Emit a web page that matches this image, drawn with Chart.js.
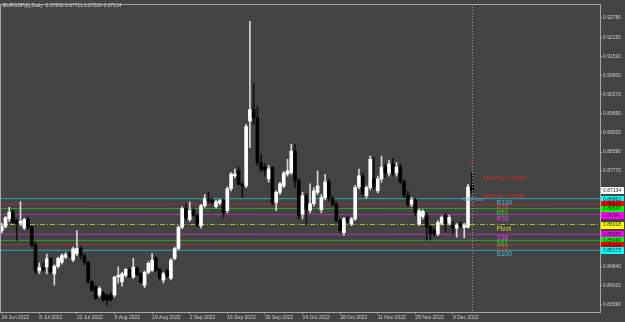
<!DOCTYPE html>
<html>
<head>
<meta charset="UTF-8">
<title>EURGBP Daily</title>
<script src="https://cdn.jsdelivr.net/npm/chart.js"></script>
<style>
  html, body { margin: 0; padding: 0; background: #434343; }
  #wrap { width: 625px; height: 322px; }
</style>
</head>
<body>
<div id="wrap"><canvas id="chart" width="625" height="322"></canvas></div>
<script>
  // header text
  const symbolTitle = 'EURGBP(£),Daily  0.87260 0.87711 0.87036 0.87134';

  // daily candles, 24 Jun 2022 .. 16 Dec 2022 (bar index 0..125)
  const opens = [
    0.8581, 0.8595, 0.8621, 0.8642, 0.8615, 0.8606, 0.8591, 0.8618, 0.8593, 0.8535,
    0.8450, 0.8461, 0.8463, 0.8490, 0.8440, 0.8465, 0.8478, 0.8495, 0.8503, 0.8486,
    0.8506, 0.8523, 0.8500, 0.8478, 0.8414, 0.8398, 0.8371, 0.8378, 0.8370, 0.8372,
    0.8371, 0.8430, 0.8414, 0.8436, 0.8455, 0.8430, 0.8459, 0.8442, 0.8403, 0.8445,
    0.8452, 0.8493, 0.8455, 0.8420, 0.8450, 0.8426, 0.8491, 0.8523, 0.8593, 0.8654,
    0.8618, 0.8648, 0.8632, 0.8598, 0.8663, 0.8686, 0.8680, 0.8660, 0.8672, 0.8680,
    0.8647, 0.8719, 0.8762, 0.8777, 0.8734, 0.8728, 0.8940, 0.8978, 0.8951, 0.8804,
    0.8790, 0.8751, 0.8788, 0.8674, 0.8707, 0.8728, 0.8767, 0.8772, 0.8842, 0.8745,
    0.8636, 0.8696, 0.8648, 0.8670, 0.8707, 0.8650, 0.8690, 0.8741, 0.8687, 0.8669,
    0.8615, 0.8575, 0.8620, 0.8604, 0.8620, 0.8725, 0.8761, 0.8696, 0.8723, 0.8752,
    0.8712, 0.8751, 0.8790, 0.8770, 0.8800, 0.8770, 0.8790, 0.8742, 0.8698, 0.8668,
    0.8682, 0.8604, 0.8628, 0.8631, 0.8593, 0.8582, 0.8571, 0.8606, 0.8631, 0.8606,
    0.8601, 0.8590, 0.8603, 0.8592, 0.8593, 0.87260
  ];
  const highs = [
    0.8606, 0.8628, 0.8658, 0.8650, 0.8620, 0.8677, 0.8622, 0.8626, 0.8598, 0.8544,
    0.8476, 0.8476, 0.8505, 0.8494, 0.8470, 0.8495, 0.8506, 0.8510, 0.8512, 0.8528,
    0.8582, 0.8530, 0.8506, 0.8482, 0.8418, 0.8402, 0.8398, 0.8384, 0.8375, 0.8380,
    0.8432, 0.8463, 0.8445, 0.8458, 0.8460, 0.8491, 0.8463, 0.8445, 0.8450, 0.8480,
    0.8507, 0.8498, 0.8460, 0.8445, 0.8455, 0.8490, 0.8528, 0.8598, 0.8660, 0.8670,
    0.8676, 0.8656, 0.8636, 0.8668, 0.8700, 0.8707, 0.8688, 0.8682, 0.8684, 0.8686,
    0.8725, 0.8772, 0.8783, 0.8790, 0.8740, 0.8930, 0.9267, 0.9064, 0.8990, 0.8832,
    0.8800, 0.8795, 0.8792, 0.8712, 0.8740, 0.8775, 0.8815, 0.8865, 0.8865, 0.8752,
    0.8707, 0.8702, 0.8735, 0.8722, 0.8777, 0.8700, 0.8766, 0.8750, 0.8695, 0.8675,
    0.8620, 0.8625, 0.8628, 0.8625, 0.8730, 0.8783, 0.8770, 0.8728, 0.8826, 0.8822,
    0.8760, 0.8826, 0.8800, 0.8812, 0.8818, 0.8805, 0.8800, 0.8748, 0.8712, 0.8690,
    0.8688, 0.8652, 0.8650, 0.8640, 0.8600, 0.8590, 0.8615, 0.8630, 0.8640, 0.8632,
    0.8612, 0.8605, 0.8612, 0.8606, 0.8733, 0.87711
  ];
  const lows = [
    0.8574, 0.8590, 0.8612, 0.8606, 0.8550, 0.8598, 0.8585, 0.8586, 0.8528, 0.8440,
    0.8441, 0.8448, 0.8440, 0.8440, 0.8403, 0.8460, 0.8472, 0.8490, 0.8494, 0.8480,
    0.8500, 0.8488, 0.8470, 0.8410, 0.8383, 0.8356, 0.8365, 0.8350, 0.8338, 0.8350,
    0.8365, 0.8410, 0.8400, 0.8430, 0.8428, 0.8425, 0.8434, 0.8410, 0.8395, 0.8440,
    0.8448, 0.8448, 0.8420, 0.8410, 0.8428, 0.8420, 0.8486, 0.8518, 0.8588, 0.8618,
    0.8612, 0.8628, 0.8595, 0.8590, 0.8658, 0.8672, 0.8668, 0.8655, 0.8666, 0.8625,
    0.8640, 0.8712, 0.8755, 0.8730, 0.8690, 0.8722, 0.8853, 0.8930, 0.8795, 0.8775,
    0.8760, 0.8740, 0.8665, 0.8647, 0.8700, 0.8722, 0.8760, 0.8765, 0.8723, 0.8620,
    0.8620, 0.8600, 0.8640, 0.8662, 0.8700, 0.8640, 0.8682, 0.8680, 0.8662, 0.8610,
    0.8575, 0.8566, 0.8606, 0.8598, 0.8615, 0.8718, 0.8695, 0.8688, 0.8715, 0.8718,
    0.8705, 0.8740, 0.8755, 0.8760, 0.8760, 0.8760, 0.8735, 0.8690, 0.8660, 0.8660,
    0.8630, 0.8598, 0.8620, 0.8550, 0.8552, 0.8565, 0.8565, 0.8600, 0.8576, 0.8600,
    0.8570, 0.8560, 0.8590, 0.8558, 0.8590, 0.87036
  ];
  const closes = [
    0.8595, 0.8624, 0.8642, 0.8610, 0.8604, 0.8613, 0.8618, 0.8593, 0.8535, 0.8450,
    0.8461, 0.8455, 0.8490, 0.8447, 0.8465, 0.8491, 0.8500, 0.8503, 0.8499, 0.8522,
    0.8523, 0.8502, 0.8478, 0.8414, 0.8387, 0.8360, 0.8392, 0.8354, 0.8354, 0.8356,
    0.8430, 0.8436, 0.8440, 0.8455, 0.8430, 0.8462, 0.8438, 0.8413, 0.8445, 0.8475,
    0.8485, 0.8452, 0.8426, 0.8440, 0.8433, 0.8485, 0.8523, 0.8593, 0.8654, 0.8624,
    0.8648, 0.8632, 0.8600, 0.8663, 0.8686, 0.8680, 0.8674, 0.8676, 0.8680, 0.8642,
    0.8719, 0.8767, 0.8767, 0.8734, 0.8728, 0.8922, 0.8978, 0.8951, 0.8804, 0.8783,
    0.8778, 0.8784, 0.8674, 0.8707, 0.8735, 0.8770, 0.8777, 0.8842, 0.8745, 0.8631,
    0.8696, 0.8650, 0.8670, 0.8712, 0.8728, 0.8690, 0.8741, 0.8687, 0.8669, 0.8615,
    0.8582, 0.8620, 0.8612, 0.8620, 0.8723, 0.8761, 0.8702, 0.8723, 0.8815, 0.8726,
    0.8751, 0.8790, 0.8770, 0.8800, 0.8770, 0.8790, 0.8742, 0.8698, 0.8668, 0.8682,
    0.8640, 0.8647, 0.8645, 0.8593, 0.8571, 0.8571, 0.8609, 0.8625, 0.8606, 0.8625,
    0.8590, 0.8600, 0.8595, 0.8600, 0.8725, 0.87134
  ];
  const currentPrice = 0.87134;

  // date axis
  const xTickIndex = [0, 10, 20, 30, 40, 50, 60, 70, 80, 90, 100, 110, 120];
  const xTickLabels = ['24 Jun 2022', '8 Jul 2022', '22 Jul 2022', '5 Aug 2022', '19 Aug 2022',
    '2 Sep 2022', '16 Sep 2022', '30 Sep 2022', '14 Oct 2022', '28 Oct 2022',
    '11 Nov 2022', '25 Nov 2022', '9 Dec 2022'];

  // price axis
  const yTickValues = [0.92780, 0.92150, 0.91520, 0.90900, 0.90270, 0.89650, 0.89020,
    0.88390, 0.87770, 0.84640, 0.84010, 0.83390];

  // fibonacci pivot levels
  const pivotNames = ['R100', 'R78', 'R61', 'R38', 'Pivot', 'S38', 'S61', 'S78', 'S100'];
  const pivotLevels = [0.86863, 0.86682, 0.86540, 0.86341, 0.86018, 0.85695, 0.85496, 0.85354, 0.85173];

  const adrTexts = ['ADR High: 0.87959', 'ADR Low: 0.86788', 'ADR Start'];

  // styles
  const bgColor = '#434343';
  const frameColor = '#a6a6a6';
  const axisText = '#cfcfcf';
  const lineColors = ['#26a6bb', '#a33030', '#24a624', '#b030b0', '#b5b524', '#b030b0', '#24a624', '#a33030', '#26a6bb'];
  const nameColors = ['#3ec3dc', '#e03a3a', '#36d636', '#e048e0', '#d8d840', '#e048e0', '#36d636', '#e03a3a', '#3ec3dc'];
  const boxColors = ['#00ffff', '#ff0000', '#00ff00', '#ff00ff', '#ffff00', '#ff00ff', '#00ff00', '#ff0000', '#00ffff'];

  const xMin = -0.45, xMax = 159.1;
  const yMin = 0.83154, yMax = 0.932353;
  const lastBar = closes.length - 1;
  const smallFont = '5px "Liberation Sans"';

  const isUp = closes.map((c, i) => c >= opens[i]);

  const datasets = [
    {
      type: 'bar',
      label: 'body',
      data: opens.map((o, i) => ({ x: i, y: [o, closes[i]] })),
      backgroundColor: isUp.map(u => u ? '#ffffff' : '#000000'),
      borderWidth: 0,
      barThickness: 3,
      minBarLength: 1,
      grouped: false,
      order: 0
    },
    {
      type: 'bar',
      label: 'wick',
      data: lows.map((l, i) => ({ x: i, y: [l, highs[i]] })),
      backgroundColor: isUp.map(u => u ? '#d6d6d6' : '#111111'),
      borderWidth: 0,
      barThickness: 1,
      grouped: false,
      order: 1
    }
  ];

  pivotLevels.forEach((lvl, k) => {
    datasets.push({
      type: 'line',
      label: pivotNames[k],
      data: [{ x: xMin, y: lvl }, { x: xMax, y: lvl }],
      borderColor: lineColors[k],
      borderWidth: 1,
      borderDash: pivotNames[k] === 'Pivot' ? [5, 2, 1, 2] : [],
      pointRadius: 0,
      order: 5
    });
  });

  const decor = {
    id: 'decor',
    beforeDraw(chart) {
      const { ctx, width, height } = chart;
      ctx.save();
      ctx.fillStyle = bgColor;
      ctx.fillRect(0, 0, width, height);
      ctx.restore();
    },
    afterDatasetsDraw(chart) {
      const { ctx, chartArea } = chart;
      const xs = chart.scales.x, ys = chart.scales.y;
      ctx.save();

      // current bar separator
      const vx = Math.round(xs.getPixelForValue(lastBar)) + 0.5;
      ctx.strokeStyle = '#9a9a9a';
      ctx.lineWidth = 1;
      ctx.setLineDash([1, 2]);
      ctx.beginPath();
      ctx.moveTo(vx, chartArea.top);
      ctx.lineTo(vx, chartArea.bottom);
      ctx.stroke();
      ctx.setLineDash([]);

      // level names
      ctx.font = '6.5px "Liberation Sans"';
      ctx.textAlign = 'left';
      ctx.textBaseline = 'top';
      const nx = xs.getPixelForValue(131.6);
      pivotLevels.forEach((lvl, k) => {
        ctx.fillStyle = nameColors[k];
        ctx.fillText(pivotNames[k], nx, ys.getPixelForValue(lvl) + 1);
      });

      // ADR texts
      ctx.font = smallFont;
      ctx.textBaseline = 'middle';
      ctx.fillStyle = '#e02828';
      ctx.fillText(adrTexts[0], xs.getPixelForValue(128), ys.getPixelForValue(0.87512));
      ctx.fillText(adrTexts[1], xs.getPixelForValue(128), ys.getPixelForValue(0.86936));
      ctx.fillStyle = '#6f8fae';
      ctx.fillText(adrTexts[2], xs.getPixelForValue(122.2), ys.getPixelForValue(0.86840));
      ctx.fillStyle = '#e02828';
      ctx.textAlign = 'center';
      ctx.fillText('8', xs.getPixelForValue(lastBar), ys.getPixelForValue(0.88032));

      // header
      ctx.textAlign = 'left';
      ctx.fillStyle = '#dcdcdc';
      ctx.fillText(symbolTitle, 3, 6);
      ctx.restore();
    },
    afterDraw(chart) {
      const { ctx, chartArea } = chart;
      const ys = chart.scales.y;
      ctx.save();
      ctx.strokeStyle = frameColor;
      ctx.lineWidth = 1;
      ctx.strokeRect(chartArea.left + 0.5, chartArea.top + 0.5,
        chartArea.right - chartArea.left, chartArea.bottom - chartArea.top);

      // price boxes on the axis
      ctx.font = smallFont;
      ctx.textAlign = 'left';
      ctx.textBaseline = 'middle';
      const bx = chartArea.right + 1;
      const drawBox = (val, fill) => {
        const py = ys.getPixelForValue(val);
        ctx.fillStyle = fill;
        ctx.fillRect(bx, Math.round(py) - 3, 23, 7);
        ctx.fillStyle = '#1a1a1a';
        ctx.fillText(val.toFixed(5), bx + 2, py + 0.5);
      };
      drawBox(currentPrice, '#ffffff');
      pivotLevels.forEach((lvl, k) => drawBox(lvl, boxColors[k]));
      ctx.restore();
    }
  };

  new Chart(document.getElementById('chart'), {
    type: 'bar',
    data: { datasets },
    options: {
      responsive: false,
      animation: false,
      devicePixelRatio: 1,
      layout: { padding: { top: 2, left: 0, right: 0, bottom: 0 } },
      plugins: { legend: { display: false }, tooltip: { enabled: false } },
      scales: {
        x: {
          type: 'linear',
          min: xMin,
          max: xMax,
          offset: false,
          afterBuildTicks: s => { s.ticks = xTickIndex.map(v => ({ value: v })); },
          afterFit: s => { s.height = 10; },
          grid: { drawOnChartArea: false, drawTicks: true, tickLength: 2, color: frameColor, offset: false },
          border: { color: frameColor },
          ticks: {
            autoSkip: false, maxRotation: 0, minRotation: 0, align: 'start', padding: 1,
            color: axisText, font: { family: 'Liberation Sans', size: 5 },
            callback: v => xTickLabels[xTickIndex.indexOf(v)]
          }
        },
        y: {
          type: 'linear',
          position: 'right',
          min: yMin,
          max: yMax,
          afterBuildTicks: s => { s.ticks = yTickValues.map(v => ({ value: v })); },
          afterFit: s => { s.width = 25; },
          grid: { drawOnChartArea: false, drawTicks: true, tickLength: 2, color: frameColor },
          border: { color: frameColor },
          ticks: {
            autoSkip: false, padding: 1, color: axisText,
            font: { family: 'Liberation Sans', size: 5 },
            callback: v => v.toFixed(5)
          }
        }
      }
    },
    plugins: [decor]
  });
</script>
</body>
</html>
